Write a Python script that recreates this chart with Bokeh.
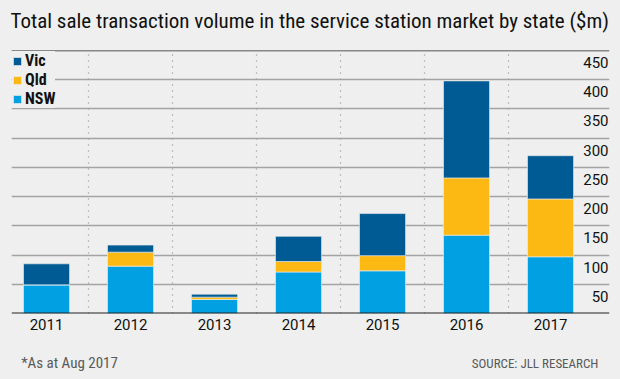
from bokeh.plotting import figure
from bokeh.models import Range1d, FixedTicker, Span, Title, ColumnDataSource
from bokeh.layouts import column
from bokeh.core.properties import value
from bokeh.embed import file_html
from bokeh.resources import INLINE

# ---- data ----
years = [2011, 2012, 2013, 2014, 2015, 2016, 2017]
nsw = [49, 81, 24, 71, 73, 134, 97]
qld = [0, 24, 4, 18, 26, 98, 99]
vic = [36, 12, 5, 43, 72, 166, 74]
series = ["NSW", "Qld", "Vic"]
colors = ["#00a0e2", "#fdb913", "#005b94"]
y_ticks = [50, 100, 150, 200, 250, 300, 350, 400, 450]
y_labels = [str(t) for t in y_ticks]
footnote = "*As at Aug 2017"
source_note = "SOURCE: JLL RESEARCH"

BG = "#eeefee"
COND = "Roboto Condensed"
SANS = "Roboto"

x_start = years[0] - 0.417
x_end = years[-1] + 0.702

p = figure(width=620, height=340, output_backend="svg", toolbar_location=None,
           x_range=Range1d(x_start, x_end), y_range=Range1d(0, 450),
           background_fill_color=BG, border_fill_color=BG,
           min_border_left=11, min_border_right=11, min_border_top=50, min_border_bottom=27)
p.outline_line_color = None

p.title.text = "Total sale transaction volume in the service station market by state ($m)"
p.title.text_font = COND
p.title.text_font_size = "21px"
p.title.text_font_style = "normal"
p.title.text_color = "#111111"
p.title.align = "left"
p.title.offset = -1
# spacer between the title and the frame
p.add_layout(Title(text=" ", text_font_size="8px", text_color=BG, standoff=2), "above")

src = ColumnDataSource(dict(year=years, NSW=nsw, Qld=qld, Vic=vic))
p.vbar_stack(series, x="year", width=0.548, color=colors, source=src,
             line_color=BG, line_width=0.6, legend_label=series)

# horizontal grid
p.ygrid.ticker = FixedTicker(ticks=y_ticks[:-1])
p.ygrid.grid_line_color = "#a3a3a3"
p.ygrid.grid_line_width = 1.4
# dotted vertical separators
p.xgrid.ticker = FixedTicker(ticks=[y + 0.5 for y in years[:-1]])
p.xgrid.grid_line_color = "#8f8f8f"
p.xgrid.grid_line_width = 1.2
p.xgrid.grid_line_dash = "1 5"

p.add_layout(Span(location=450, dimension="width", line_color="#222222", line_width=1.5))
p.add_layout(Span(location=0, dimension="width", line_color="#222222", line_width=2))

# axes
p.yaxis.visible = False
p.xaxis.ticker = FixedTicker(ticks=years)
p.xaxis.axis_line_color = None
p.xaxis.major_tick_line_color = None
p.xaxis.minor_tick_line_color = None
p.xaxis.major_tick_out = 0
p.xaxis.major_tick_in = 0
p.xaxis.major_label_text_font = SANS
p.xaxis.major_label_text_font_size = "15px"
p.xaxis.major_label_text_color = "#111111"
p.xaxis.major_label_standoff = 5

# y tick labels inside the frame, below their grid lines
p.text(x=[x_end] * len(y_ticks), y=y_ticks, text=y_labels,
       text_align="right", text_baseline="middle", x_offset=-1, y_offset=12,
       text_font=value(SANS), text_font_size="15px", text_color="#111111")

# legend
leg = p.legend[0]
leg.items = list(reversed(leg.items))
leg.location = "top_left"
leg.margin = 1
leg.padding = 3
leg.spacing = 0
leg.glyph_width = 10
leg.glyph_height = 10
leg.label_height = 16
leg.label_standoff = 3
leg.label_text_font = COND
leg.label_text_font_size = "16px"
leg.label_text_font_style = "bold"
leg.label_text_color = "#111111"
leg.background_fill_color = BG
leg.background_fill_alpha = 1
leg.border_line_color = None

# footnote strip (pixel coordinates)
f = figure(width=620, height=39, output_backend="svg", toolbar_location=None,
           x_range=Range1d(0, 620), y_range=Range1d(0, 39),
           background_fill_color=BG, border_fill_color=BG, min_border=0)
f.outline_line_color = None
f.axis.visible = False
f.grid.visible = False
f.text(x=[10], y=[16.5], text=[footnote], text_align="left", text_baseline="middle",
       text_font=value(COND), text_font_size="15px", text_color="#5a5a5a")
f.text(x=[608.5], y=[16], text=[source_note], text_align="right", text_baseline="middle",
       text_font=value(COND), text_font_size="13px", text_color="#5a5a5a")

layout = column(p, f, spacing=0)
html = file_html(layout, INLINE)
html = html.replace("<body>", '<body style="background:%s">' % BG)
open("out.html", "w").write(html)
